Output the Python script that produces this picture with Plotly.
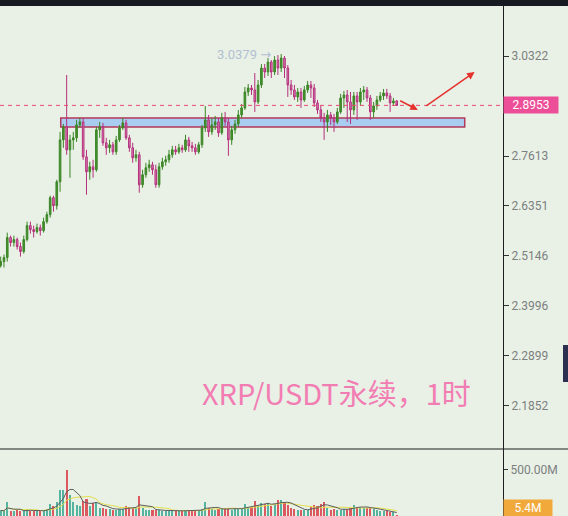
import math
import pandas as pd
import plotly.graph_objects as go

# ---------------- data ----------------
open_ = [2.4922, 2.5015, 2.5109, 2.5583, 2.5464, 2.5535, 2.5369, 2.5250, 2.5535, 2.5871,
         2.5774, 2.5726, 2.5823, 2.5750, 2.5967, 2.6138, 2.6556, 2.6358, 2.6955, 2.8033,
         2.8375, 2.7773, 2.8033, 2.8086, 2.8429, 2.8509, 2.7592, 2.7208, 2.7336, 2.7259,
         2.8297, 2.8375, 2.7955, 2.7825, 2.7903, 2.7721, 2.8033, 2.8349, 2.8482, 2.8086,
         2.7825, 2.7566, 2.7644, 2.6880, 2.7132, 2.7311, 2.7387, 2.7259, 2.6880, 2.7336,
         2.7464, 2.7515, 2.7644, 2.7773, 2.7721, 2.7825, 2.7773, 2.8033, 2.7877, 2.7825,
         2.7721, 2.7903, 2.8349, 2.8562, 2.8244, 2.8429, 2.8509, 2.8218, 2.8615, 2.8509,
         2.8033, 2.8297, 2.8455, 2.8696, 2.8885, 2.9319, 2.9429, 2.9374, 2.9047, 2.9512,
         2.9984, 2.9872, 3.0152, 2.9872, 3.0209, 2.9984, 3.0265, 2.9984, 2.9512, 2.9374,
         2.9183, 2.9319, 2.9101, 2.9374, 2.9512, 2.9429, 2.9020, 2.8830, 2.8615, 2.8509,
         2.8696, 2.8615, 2.8509, 2.8777, 2.9156, 2.9237, 2.9047, 2.8830, 2.9210, 2.9047,
         2.9319, 2.9374, 2.9156, 2.8777, 2.8939, 2.9101, 2.9210, 2.9292, 2.9210, 2.9020,
         2.9074]
high = [2.5132, 2.5179, 2.5702, 2.5630, 2.5630, 2.5583, 2.5464, 2.5630, 2.5967, 2.5967,
        2.5871, 2.5919, 2.5895, 2.6065, 2.6211, 2.6605, 2.6605, 2.7006, 2.8244, 2.8455,
        2.9788, 2.8165, 2.8244, 2.8562, 2.8615, 2.8615, 2.7773, 2.7464, 2.7515, 2.8375,
        2.8509, 2.8482, 2.8086, 2.8033, 2.7981, 2.8138, 2.8429, 2.8615, 2.8562, 2.8165,
        2.7955, 2.7773, 2.7721, 2.7259, 2.7438, 2.7515, 2.7464, 2.7387, 2.7438, 2.7566,
        2.7618, 2.7773, 2.7877, 2.7877, 2.7929, 2.7903, 2.8165, 2.8112, 2.7981, 2.7929,
        2.7981, 2.8429, 2.8939, 2.8696, 2.8615, 2.8669, 2.8615, 2.8750, 2.8777, 2.8615,
        2.8402, 2.8562, 2.8830, 2.8993, 2.9457, 2.9539, 2.9512, 2.9844, 2.9650, 3.0096,
        3.0096, 3.0265, 3.0209, 3.0322, 3.0350, 3.0379, 3.0322, 3.0068, 2.9650, 2.9512,
        2.9429, 2.9429, 2.9484, 2.9622, 2.9622, 2.9539, 2.9101, 2.8939, 2.8750, 2.8830,
        2.8777, 2.8723, 2.8885, 2.9265, 2.9347, 2.9374, 2.9319, 2.9319, 2.9319, 2.9429,
        2.9484, 2.9457, 2.9237, 2.9047, 2.9210, 2.9319, 2.9402, 2.9402, 2.9292, 2.9156,
        2.9101]
low = [2.4875, 2.4875, 2.5015, 2.5369, 2.5369, 2.5297, 2.5132, 2.5203, 2.5488, 2.5678,
       2.5583, 2.5678, 2.5630, 2.5702, 2.5919, 2.6065, 2.6211, 2.6260, 2.6705, 2.7825,
       2.7644, 2.7056, 2.7773, 2.7981, 2.8349, 2.7515, 2.6630, 2.7006, 2.7056, 2.7208,
       2.8086, 2.7877, 2.7644, 2.7695, 2.7644, 2.7644, 2.7981, 2.8297, 2.8033, 2.7721,
       2.7438, 2.7464, 2.6680, 2.6805, 2.7056, 2.7208, 2.7132, 2.6805, 2.6805, 2.7259,
       2.7362, 2.7438, 2.7566, 2.7644, 2.7669, 2.7695, 2.7721, 2.7721, 2.7721, 2.7644,
       2.7669, 2.7825, 2.8244, 2.8112, 2.8165, 2.8297, 2.8112, 2.8165, 2.8402, 2.7618,
       2.7903, 2.8191, 2.8375, 2.8615, 2.8830, 2.9210, 2.9237, 2.8777, 2.8993, 2.9429,
       2.9705, 2.9760, 2.9705, 2.9788, 2.9788, 2.9872, 2.9705, 2.9183, 2.9237, 2.9101,
       2.9047, 2.8885, 2.9047, 2.9292, 2.9156, 2.8912, 2.8723, 2.8509, 2.8033, 2.8244,
       2.8429, 2.8244, 2.8455, 2.8723, 2.8885, 2.8509, 2.8455, 2.8696, 2.8562, 2.8939,
       2.9101, 2.9047, 2.8562, 2.8615, 2.8830, 2.9047, 2.9101, 2.9128, 2.8777, 2.8939,
       2.8939]
close = [2.5015, 2.5109, 2.5583, 2.5464, 2.5535, 2.5369, 2.5250, 2.5535, 2.5871, 2.5774,
         2.5726, 2.5823, 2.5750, 2.5967, 2.6138, 2.6556, 2.6358, 2.6955, 2.8033, 2.8375,
         2.7773, 2.8033, 2.8086, 2.8429, 2.8509, 2.7592, 2.7208, 2.7336, 2.7259, 2.8297,
         2.8375, 2.7955, 2.7825, 2.7903, 2.7721, 2.8033, 2.8349, 2.8482, 2.8086, 2.7825,
         2.7566, 2.7644, 2.6880, 2.7132, 2.7311, 2.7387, 2.7259, 2.6880, 2.7336, 2.7464,
         2.7515, 2.7644, 2.7773, 2.7721, 2.7825, 2.7773, 2.8033, 2.7877, 2.7825, 2.7721,
         2.7903, 2.8349, 2.8562, 2.8244, 2.8429, 2.8509, 2.8218, 2.8615, 2.8509, 2.8033,
         2.8297, 2.8455, 2.8696, 2.8885, 2.9319, 2.9429, 2.9374, 2.9047, 2.9512, 2.9984,
         2.9872, 3.0152, 2.9872, 3.0209, 2.9984, 3.0265, 2.9984, 2.9512, 2.9374, 2.9183,
         2.9319, 2.9101, 2.9374, 2.9512, 2.9429, 2.9020, 2.8830, 2.8615, 2.8509, 2.8696,
         2.8615, 2.8509, 2.8777, 2.9156, 2.9237, 2.9047, 2.8830, 2.9210, 2.9047, 2.9319,
         2.9374, 2.9156, 2.8777, 2.8939, 2.9101, 2.9210, 2.9292, 2.9210, 2.9020, 2.9074,
         2.8953]
volume_m = [60, 55, 150, 50, 55, 60, 50, 70, 75, 55,
            50, 60, 55, 65, 80, 130, 110, 150, 280, 280,
            500, 230, 150, 120, 110, 160, 180, 110, 140, 150,
            90, 85, 80, 75, 70, 70, 75, 80, 110, 100,
            90, 85, 220, 90, 70, 65, 60, 70, 60, 55,
            55, 60, 55, 50, 55, 60, 65, 55, 60, 55,
            70, 80, 150, 90, 75, 70, 80, 75, 80, 90,
            70, 75, 85, 80, 130, 100, 95, 160, 120, 140,
            130, 140, 110, 130, 170, 175, 150, 120, 90, 80,
            70, 65, 60, 65, 100, 120, 110, 130, 150, 90,
            70, 75, 65, 70, 75, 80, 90, 120, 95, 100,
            90, 85, 90, 80, 60, 55, 50, 50, 45, 40,
            5.4]

price_ticks = [3.0322, 2.7613, 2.6351, 2.5146, 2.3996, 2.2899, 2.1852]
price_tick_text = ["3.0322", "2.7613", "2.6351", "2.5146", "2.3996", "2.2899", "2.1852"]
last_price = 2.8953
last_price_text = "2.8953"
period_high = 3.0379
zone_low, zone_high = 2.8375, 2.8615
vol_ticks = [500e6]
vol_tick_text = ["500.00M"]
last_volume_text = "5.4M"
title_text = "XRP/USDT永续，1时"

# ---------------- derived ----------------
idx = list(range(len(close)))
volume = [v * 1e6 for v in volume_m]
vs = pd.Series(volume)
ma5 = vs.rolling(5, min_periods=1).mean()
ma10 = vs.rolling(10, min_periods=1).mean()
UP, DOWN = "#55b39f", "#dc5a5f"
vol_colors = [UP if c >= o else DOWN for o, c in zip(open_, close)]

W, H = 568, 516
TOP_M = 6
PH = H - TOP_M           # paper height
AX_X = 503 / W
SPLIT = 67 / PH
BG = "#e9f1e6"
DARK = "#171a21"
TICKFONT = dict(family="Roboto, Noto Sans, sans-serif", size=12, color="#7c7f80")

fig = go.Figure()
fig.add_trace(go.Candlestick(
    x=idx, open=open_, high=high, low=low, close=close,
    increasing=dict(line=dict(color="#3b8526", width=1), fillcolor="#47932f"),
    decreasing=dict(line=dict(color="#b5307c", width=1), fillcolor="#d67fb2"),
    whiskerwidth=0, xaxis="x", yaxis="y", showlegend=False, hoverinfo="skip"))
fig.add_trace(go.Bar(x=idx, y=volume, marker=dict(color=vol_colors, line=dict(width=0)),
                     width=0.62, xaxis="x", yaxis="y2", showlegend=False, hoverinfo="skip"))
fig.add_trace(go.Scatter(x=idx, y=ma10, mode="lines", line=dict(color="#e4e04a", width=1),
                         xaxis="x", yaxis="y2", showlegend=False, hoverinfo="skip"))
fig.add_trace(go.Scatter(x=idx, y=ma5, mode="lines", line=dict(color="#5d5d5d", width=1),
                         xaxis="x", yaxis="y2", showlegend=False, hoverinfo="skip"))

lg = math.log10
fig.update_layout(
    width=W, height=H, margin=dict(l=0, r=0, t=TOP_M, b=0, pad=0),
    paper_bgcolor=DARK, plot_bgcolor=BG, showlegend=False, bargap=0,
    xaxis=dict(domain=[0, AX_X], range=[-0.2, 152.2], anchor="y2", showgrid=False,
               zeroline=False, showticklabels=False, ticks="", rangeslider=dict(visible=False)),
    yaxis=dict(domain=[SPLIT, 1], type="log", range=[0.32199, 0.50210], side="right",
               anchor="x", showgrid=False, zeroline=False, tickmode="array",
               tickvals=price_ticks, ticktext=price_tick_text, ticks="outside", ticklen=5,
               tickcolor="#333", tickfont=TICKFONT, showline=True, linecolor="#1e1e1e",
               linewidth=1),
    yaxis2=dict(domain=[0, SPLIT], range=[0, 728e6], side="right", anchor="x",
                showgrid=False, zeroline=False, tickmode="array", tickvals=vol_ticks,
                ticktext=vol_tick_text, ticks="outside", ticklen=4, tickcolor="#333",
                tickfont=TICKFONT, showline=True, linecolor="#1e1e1e", linewidth=1),
)

shapes = [
    # light background behind the price/volume scales
    dict(type="rect", xref="paper", yref="paper", x0=AX_X, x1=1, y0=0, y1=1,
         fillcolor=BG, line=dict(width=0), layer="below"),
    # support zone
    dict(type="rect", xref="x", yref="y", x0=18.2, x1=140.6, y0=zone_low, y1=zone_high,
         fillcolor="#a9cdf0", line=dict(color="#b3385a", width=1.5), layer="below"),
    # last price dashed line
    dict(type="line", xref="paper", yref="y", x0=0, x1=AX_X, y0=last_price, y1=last_price,
         line=dict(color="#ea4a72", width=1, dash="4px,4px")),
    # panel divider
    dict(type="line", xref="paper", yref="paper", x0=0, x1=1, y0=SPLIT, y1=SPLIT,
         line=dict(color="#1e1e1e", width=1.2)),
    # right side tab
    dict(type="rect", xref="paper", yref="paper", x0=563 / W, x1=1, y0=(H - 382) / PH,
         y1=(H - 345) / PH, fillcolor="#2c3050", line=dict(width=0)),
]
fig.update_layout(shapes=shapes)

annotations = [
    dict(text=title_text, xref="paper", yref="paper", x=336 / W, y=(H - 415) / PH,
         showarrow=False, font=dict(family="Noto Sans CJK SC", size=29, color="#f27db3")),
    dict(text=f"{period_high:.4f} →", xref="x", yref="y", x=82.6, y=lg(period_high),
         xanchor="right", yanchor="middle", showarrow=False,
         font=dict(family="Roboto, DejaVu Sans, sans-serif", size=13, color="#b3bfd2")),
    dict(text=last_price_text, xref="paper", yref="y", x=AX_X, y=lg(last_price),
         xanchor="left", yanchor="middle", showarrow=False, bgcolor="#ec4f98",
         width=52, height=14, borderpad=1,
         font=dict(family="Roboto, sans-serif", size=12, color="#ffffff")),
    dict(text=last_volume_text, xref="paper", yref="paper", x=AX_X, y=(H - 508) / PH,
         xanchor="left", yanchor="middle", showarrow=False, bgcolor="#f2a93b",
         width=46, height=14, borderpad=1,
         font=dict(family="Roboto, sans-serif", size=12, color="#ffffff")),
    # hand-drawn arrows
    dict(text="", xref="x", yref="y", axref="x", ayref="y",
         x=126.4, y=lg(2.8830), ax=120.6, ay=lg(2.9101),
         showarrow=True, arrowhead=2, arrowsize=1, arrowwidth=1.5, arrowcolor="#e5322e"),
    dict(text="", xref="x", yref="y", axref="x", ayref="y",
         x=143.6, y=lg(2.9872), ax=128.5, ay=lg(2.8912),
         showarrow=True, arrowhead=2, arrowsize=1, arrowwidth=1.5, arrowcolor="#e5322e"),
]
fig.update_layout(annotations=annotations)

fig.write_html("out.html", config={"displayModeBar": False},
               post_script="document.body.style.margin='0';document.body.style.padding='0';"
                           "document.body.style.overflow='hidden';")
